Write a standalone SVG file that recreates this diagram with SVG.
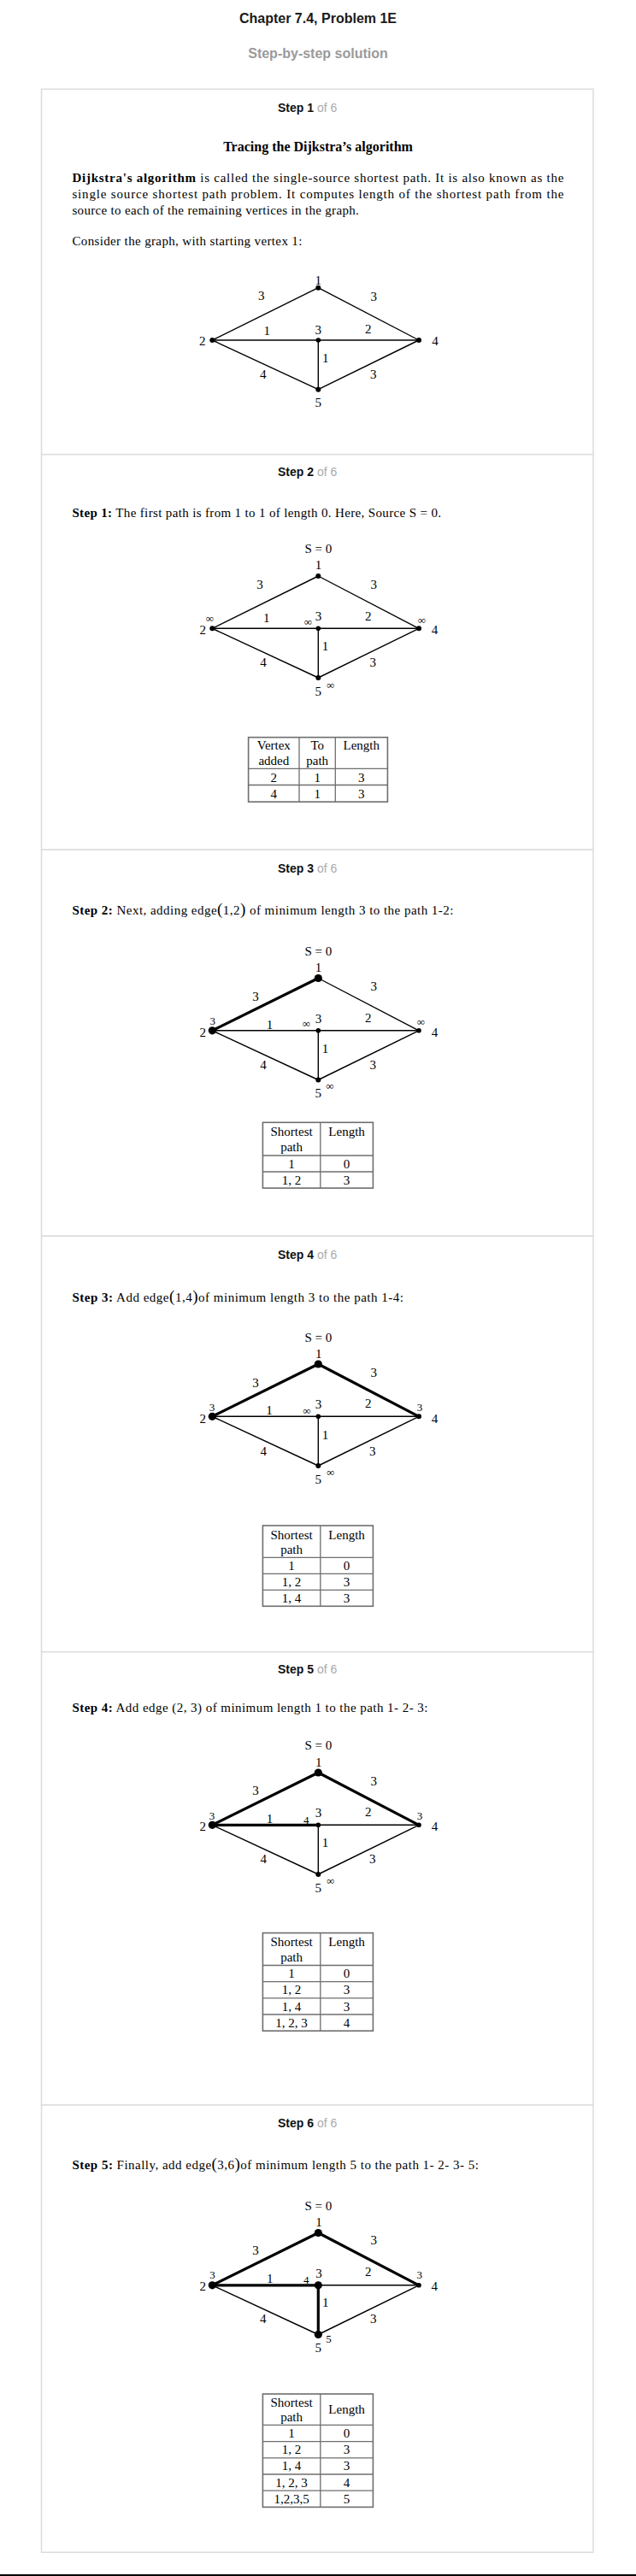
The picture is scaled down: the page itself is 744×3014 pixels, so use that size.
<svg xmlns="http://www.w3.org/2000/svg" width="744" height="3014" viewBox="0 0 744 3014">
<style>
.title{font-family:"Liberation Sans",Arial,sans-serif;font-weight:bold;font-size:16px;fill:#1a1a1a;text-anchor:middle}
.sub{font-family:"Liberation Sans",Arial,sans-serif;font-weight:bold;font-size:16px;fill:#9a9a9a;text-anchor:middle}
.sh{font-family:"Liberation Sans",Arial,sans-serif;font-size:14px;fill:#aaaaaa}
.shb{font-weight:bold;fill:#111}
.p{font-family:"Liberation Serif","DejaVu Serif",serif;font-size:15px;fill:#000}
.h{font-family:"Liberation Serif","DejaVu Serif",serif;font-size:16px;font-weight:bold;fill:#000;text-anchor:middle}
.b{font-weight:bold}
.g{font-family:"Liberation Serif","DejaVu Serif",serif;font-size:15px;fill:#000;text-anchor:middle}
.gs{font-family:"Liberation Serif","DejaVu Serif",serif;font-size:13px;fill:#000;text-anchor:middle}
.t{font-family:"Liberation Serif","DejaVu Serif",serif;font-size:15px;fill:#000;text-anchor:middle}
.box{fill:#fff;stroke:#dcdcdc;stroke-width:1.5}
.e{stroke:#000;stroke-width:1.4;fill:none}
.eb{stroke:#000;stroke-width:3.2;fill:none;stroke-linecap:round}
.d{fill:#000}
.tb{fill:none;stroke:#6e6e6e;stroke-width:1.6}
.tl{stroke:#6e6e6e;stroke-width:1.3}
</style>
<rect width="744" height="3014" fill="#fff"/>
<text class="title" x="372" y="27">Chapter 7.4, Problem 1E</text>
<text class="sub" x="372" y="68">Step-by-step solution</text>

<g id="boxes">
<rect class="box" x="48.5" y="104.3" width="645.5" height="427.4"/>
<rect class="box" x="48.5" y="531.7" width="645.5" height="462.6"/>
<rect class="box" x="48.5" y="994.3" width="645.5" height="452"/>
<rect class="box" x="48.5" y="1446.3" width="645.5" height="486.4"/>
<rect class="box" x="48.5" y="1932.7" width="645.5" height="530.3"/>
<rect class="box" x="48.5" y="2463" width="645.5" height="523.3"/>
</g>
<line x1="0" y1="3013" x2="744" y2="3013" stroke="#000" stroke-width="2"/>

<!-- Step headers -->
<text class="sh" x="325" y="130.7"><tspan class="shb">Step 1</tspan> of 6</text>
<text class="sh" x="325" y="557.3"><tspan class="shb">Step 2</tspan> of 6</text>
<text class="sh" x="325" y="1020.7"><tspan class="shb">Step 3</tspan> of 6</text>
<text class="sh" x="325" y="1472.7"><tspan class="shb">Step 4</tspan> of 6</text>
<text class="sh" x="325" y="1958.2"><tspan class="shb">Step 5</tspan> of 6</text>
<text class="sh" x="325" y="2489"><tspan class="shb">Step 6</tspan> of 6</text>

<!-- Step 1 text -->
<text class="h" x="372" y="176.7">Tracing the Dijkstra’s algorithm</text>
<text class="p" x="84.4" y="213.3" textLength="575" lengthAdjust="spacing"><tspan class="b">Dijkstra's algorithm</tspan> is called the single-source shortest path. It is also known as the</text>
<text class="p" x="84.4" y="232.3" textLength="575" lengthAdjust="spacing">single source shortest path problem. It computes length of the shortest path from the</text>
<text class="p" x="84.4" y="250.7" textLength="335.4" lengthAdjust="spacing">source to each of the remaining vertices in the graph.</text>
<text class="p" x="84.4" y="287.3" textLength="269" lengthAdjust="spacing">Consider the graph, with starting vertex 1:</text>

<text class="p" x="84.4" y="605" textLength="431.6" lengthAdjust="spacing"><tspan class="b">Step 1:</tspan> The first path is from 1 to 1 of length 0. Here, Source S = 0.</text>
<text class="p" x="84.4" y="1070" textLength="446" lengthAdjust="spacing"><tspan class="b">Step 2:</tspan> Next, adding edge<tspan font-size="19">(</tspan>1,2<tspan font-size="19">)</tspan> of minimum length 3 to the path 1-2:</text>
<text class="p" x="84.4" y="1523.3" textLength="387.6" lengthAdjust="spacing"><tspan class="b">Step 3:</tspan> Add edge<tspan font-size="19">(</tspan>1,4<tspan font-size="19">)</tspan>of minimum length 3 to the path 1-4:</text>
<text class="p" x="84.4" y="2003" textLength="416" lengthAdjust="spacing"><tspan class="b">Step 4:</tspan> Add edge (2, 3) of minimum length 1 to the path 1- 2- 3:</text>
<text class="p" x="84.4" y="2537.7" textLength="475.4" lengthAdjust="spacing"><tspan class="b">Step 5:</tspan> Finally, add edge<tspan font-size="19">(</tspan>3,6<tspan font-size="19">)</tspan>of minimum length 5 to the path 1- 2- 3- 5:</text>

<!-- Graph 1 -->
<g id="graph1" transform="translate(0,336.7)">
<g id="g1-edges">
<line class="e" x1="372.3" y1="0" x2="248.3" y2="61.3"/>
<line class="e" x1="372.3" y1="0" x2="490" y2="61.3"/>
<line class="e" x1="248.3" y1="61.3" x2="490" y2="61.3"/>
<line class="e" x1="372.3" y1="61.3" x2="372.3" y2="119"/>
<line class="e" x1="248.3" y1="61.3" x2="372.3" y2="119"/>
<line class="e" x1="490" y1="61.3" x2="372.3" y2="119"/>
<text class="g" x="305.7" y="14.5">3</text>
<text class="g" x="437.3" y="15.3">3</text>
<text class="g" x="312.3" y="55.5">1</text>
<text class="g" x="430.7" y="53.3">2</text>
<text class="g" x="380.7" y="87.3">1</text>
<text class="g" x="307.7" y="106.3">4</text>
<text class="g" x="436.7" y="106.3">3</text>
</g>
<g id="g1-n1"><circle class="d" cx="372.3" cy="0" r="3"/><text class="g" x="372.3" y="-3.5">1</text></g>
<g id="g1-n2"><circle class="d" cx="248.3" cy="61.3" r="3"/><text class="g" x="236.7" y="67.3">2</text></g>
<g id="g1-n3"><circle class="d" cx="372.3" cy="61.3" r="2.8"/><text class="g" x="372.3" y="54">3</text></g>
<g id="g1-n4"><circle class="d" cx="490" cy="61.3" r="3"/><text class="g" x="509" y="67.3">4</text></g>
<g id="g1-n5"><circle class="d" cx="372.3" cy="119" r="3"/><text class="g" x="372.3" y="139.3">5</text></g>
</g>

<!-- Graph 2 -->
<g id="graph2" transform="translate(0,674)">
<text class="g" x="372.3" y="-26.7">S = 0</text>
<g id="g2-edges">
<line class="e" x1="372.3" y1="0" x2="248.3" y2="61.3"/>
<line class="e" x1="372.3" y1="0" x2="490" y2="61.3"/>
<line class="e" x1="248.3" y1="61.3" x2="490" y2="61.3"/>
<line class="e" x1="372.3" y1="61.3" x2="372.3" y2="119"/>
<line class="e" x1="248.3" y1="61.3" x2="372.3" y2="119"/>
<line class="e" x1="490" y1="61.3" x2="372.3" y2="119"/>
<text class="g" x="304" y="14.5">3</text>
<text class="g" x="437.3" y="15.3">3</text>
<text class="g" x="311.7" y="54">1</text>
<text class="g" x="430.7" y="52">2</text>
<text class="g" x="380.5" y="87.3">1</text>
<text class="g" x="308" y="106.3">4</text>
<text class="g" x="436.3" y="106.3">3</text>
</g>
<g id="g2-n1"><circle class="d" cx="372.3" cy="0" r="3"/><text class="g" x="372.6" y="-8">1</text></g>
<g id="g2-n2"><circle class="d" cx="248.3" cy="61.3" r="3"/><text class="g" x="237.2" y="68">2</text><text class="gs" x="245.3" y="53.5">∞</text></g>
<g id="g2-n3"><circle class="d" cx="372.3" cy="61.3" r="2.8"/><text class="g" x="372.6" y="52">3</text><text class="gs" x="360.5" y="58">∞</text></g>
<g id="g2-n4"><circle class="d" cx="490" cy="61.3" r="3"/><text class="g" x="508.5" y="68">4</text><text class="gs" x="493.4" y="56">∞</text></g>
<g id="g2-n5"><circle class="d" cx="372.3" cy="119" r="3"/><text class="g" x="372.3" y="139.5">5</text><text class="gs" x="386.6" y="131.5">∞</text></g>
</g>

<!-- Graph 3 -->
<g id="graph3" transform="translate(0,1144.5)">
<text class="g" x="372.3" y="-26.5">S = 0</text>
<g id="g3-edges">
<line class="eb" x1="372.3" y1="0" x2="248.3" y2="61.3"/>
<line class="e" x1="372.3" y1="0" x2="490" y2="61.3"/>
<line class="e" x1="248.3" y1="61.3" x2="490" y2="61.3"/>
<line class="e" x1="372.3" y1="61.3" x2="372.3" y2="119"/>
<line class="e" x1="248.3" y1="61.3" x2="372.3" y2="119"/>
<line class="e" x1="490" y1="61.3" x2="372.3" y2="119"/>
<text class="g" x="299" y="26.5">3</text>
<text class="g" x="437.3" y="14.5">3</text>
<text class="g" x="315.5" y="59">1</text>
<text class="g" x="430.7" y="51">2</text>
<text class="g" x="380.5" y="87.3">1</text>
<text class="g" x="308" y="106">4</text>
<text class="g" x="436.3" y="106">3</text>
</g>
<g id="g3-n1"><circle class="d" cx="372.3" cy="0" r="4.6"/><text class="g" x="372.6" y="-7.3">1</text></g>
<g id="g3-n2"><circle class="d" cx="248.3" cy="61.3" r="4.6"/><text class="g" x="237.3" y="68">2</text><text class="gs" x="248.8" y="54.5">3</text></g>
<g id="g3-n3"><circle class="d" cx="372.3" cy="61.3" r="2.8"/><text class="g" x="372.6" y="52.5">3</text><text class="gs" x="358.3" y="57.5">∞</text></g>
<g id="g3-n4"><circle class="d" cx="490" cy="61.3" r="2.8"/><text class="g" x="508.5" y="68">4</text><text class="gs" x="492.3" y="55">∞</text></g>
<g id="g3-n5"><circle class="d" cx="372.3" cy="119" r="3"/><text class="g" x="372.3" y="139.5">5</text><text class="gs" x="386" y="130.5">∞</text></g>
</g>

<!-- Graph 4 -->
<g id="graph4" transform="translate(0,1596)">
<text class="g" x="372.3" y="-26.5">S = 0</text>
<g id="g4-edges">
<line class="eb" x1="372.3" y1="0" x2="248.3" y2="61.3"/>
<line class="eb" x1="372.3" y1="0" x2="490" y2="61.3"/>
<line class="e" x1="248.3" y1="61.3" x2="490" y2="61.3"/>
<line class="e" x1="372.3" y1="61.3" x2="372.3" y2="119"/>
<line class="e" x1="248.3" y1="61.3" x2="372.3" y2="119"/>
<line class="e" x1="490" y1="61.3" x2="372.3" y2="119"/>
<text class="g" x="299" y="26.5">3</text>
<text class="g" x="437.3" y="15">3</text>
<text class="g" x="315" y="58.5">1</text>
<text class="g" x="430.7" y="51">2</text>
<text class="g" x="380.5" y="88">1</text>
<text class="g" x="308.3" y="106.5">4</text>
<text class="g" x="435.8" y="106.5">3</text>
</g>
<g id="g4-n1"><circle class="d" cx="372.3" cy="0" r="4.6"/><text class="g" x="372.8" y="-7">1</text></g>
<g id="g4-n2"><circle class="d" cx="248.3" cy="61.3" r="4.6"/><text class="g" x="237.3" y="69">2</text><text class="gs" x="248" y="55">3</text></g>
<g id="g4-n3"><circle class="d" cx="372.3" cy="61.3" r="2.8"/><text class="g" x="372.6" y="51.5">3</text><text class="gs" x="359" y="58.5">∞</text></g>
<g id="g4-n4"><circle class="d" cx="490" cy="61.3" r="3"/><text class="g" x="508.5" y="69">4</text><text class="gs" x="491" y="55">3</text></g>
<g id="g4-n5"><circle class="d" cx="372.3" cy="119" r="3"/><text class="g" x="372.3" y="140">5</text><text class="gs" x="386.6" y="130.5">∞</text></g>
</g>

<!-- Graph 5 -->
<g id="graph5" transform="translate(0,2074)">
<text class="g" x="372.3" y="-27">S = 0</text>
<g id="g5-edges">
<line class="eb" x1="372.3" y1="0" x2="248.3" y2="61.3"/>
<line class="eb" x1="372.3" y1="0" x2="490" y2="61.3"/>
<line class="eb" x1="248.3" y1="61.3" x2="372.3" y2="61.3"/>
<line class="e" x1="372.3" y1="61.3" x2="490" y2="61.3"/>
<line class="e" x1="372.3" y1="61.3" x2="372.3" y2="119"/>
<line class="e" x1="248.3" y1="61.3" x2="372.3" y2="119"/>
<line class="e" x1="490" y1="61.3" x2="372.3" y2="119"/>
<text class="g" x="299" y="26">3</text>
<text class="g" x="437.3" y="14.5">3</text>
<text class="g" x="315.5" y="58.5">1</text>
<text class="g" x="430.7" y="50.5">2</text>
<text class="g" x="380.5" y="87.3">1</text>
<text class="g" x="308.3" y="106">4</text>
<text class="g" x="435.8" y="106">3</text>
</g>
<g id="g5-n1"><circle class="d" cx="372.3" cy="0" r="4.6"/><text class="g" x="372.8" y="-7.3">1</text></g>
<g id="g5-n2"><circle class="d" cx="248.3" cy="61.3" r="4.6"/><text class="g" x="237.3" y="68">2</text><text class="gs" x="248" y="54.5">3</text></g>
<g id="g5-n3"><circle class="d" cx="372.3" cy="61.3" r="2.8"/><text class="g" x="372.6" y="51.5">3</text><text class="gs" x="358.2" y="59.5" font-size="14">4</text></g>
<g id="g5-n4"><circle class="d" cx="490" cy="61.3" r="2.8"/><text class="g" x="508.5" y="68">4</text><text class="gs" x="491" y="54.5">3</text></g>
<g id="g5-n5"><circle class="d" cx="372.3" cy="119" r="3"/><text class="g" x="372.3" y="140">5</text><text class="gs" x="386.6" y="130.5">∞</text></g>
</g>

<!-- Graph 6 -->
<g id="graph6" transform="translate(0,2612.5)">
<text class="g" x="372.3" y="-26.5">S = 0</text>
<g id="g6-edges">
<line class="eb" x1="372.3" y1="0" x2="248.3" y2="61.3"/>
<line class="eb" x1="372.3" y1="0" x2="490" y2="61.3"/>
<line class="eb" x1="248.3" y1="61.3" x2="372.3" y2="61.3"/>
<line class="e" x1="372.3" y1="61.3" x2="490" y2="61.3" stroke-width="1.1"/>
<line class="eb" x1="372.3" y1="61.3" x2="372.3" y2="119"/>
<line class="e" x1="248.3" y1="61.3" x2="372.3" y2="119" stroke-width="1.1"/>
<line class="e" x1="490" y1="61.3" x2="372.3" y2="119" stroke-width="1.1"/>
<text class="g" x="299" y="25.7">3</text>
<text class="g" x="437.3" y="13.7">3</text>
<text class="g" x="315.7" y="58.7">1</text>
<text class="g" x="430.7" y="50.7">2</text>
<text class="g" x="380.7" y="86.7">1</text>
<text class="g" x="307.7" y="105.7">4</text>
<text class="g" x="436.7" y="105.7">3</text>
</g>
<g id="g6-n1"><circle class="d" cx="372.3" cy="0" r="4.6"/><text class="g" x="373" y="-7.3">1</text></g>
<g id="g6-n2"><circle class="d" cx="248.3" cy="61.3" r="4.6"/><text class="g" x="237.3" y="67.7">2</text><text class="gs" x="248.5" y="53.7">3</text></g>
<g id="g6-n3"><circle class="d" cx="372.3" cy="61.3" r="4.6"/><text class="g" x="373" y="52.7">3</text><text class="gs" x="358.3" y="59.7" font-size="14">4</text></g>
<g id="g6-n4"><circle class="d" cx="490" cy="61.3" r="2.8"/><text class="g" x="508.3" y="67.7">4</text><text class="gs" x="490.7" y="53.7">3</text></g>
<g id="g6-n5"><circle class="d" cx="372.3" cy="119" r="4.6"/><text class="g" x="372.3" y="139.4">5</text><text class="gs" x="384.5" y="128.7" font-size="14">5</text></g>
</g>

<!-- Table 1 (Step 2) -->
<g id="table1">
<rect class="tb" x="290.6" y="862.7" width="162.8" height="75.5"/>
<line class="tl" x1="350" y1="862.7" x2="350" y2="938.2"/>
<line class="tl" x1="392.3" y1="862.7" x2="392.3" y2="938.2"/>
<line class="tl" x1="290.6" y1="899.3" x2="453.4" y2="899.3"/>
<line class="tl" x1="290.6" y1="918.5" x2="453.4" y2="918.5"/>
<text class="t" x="320.3" y="876.7">Vertex</text><text class="t" x="320.3" y="895">added</text>
<text class="t" x="371.2" y="876.7">To</text><text class="t" x="371.2" y="895">path</text>
<text class="t" x="422.8" y="876.7">Length</text>
<text class="t" x="320.3" y="914.5">2</text><text class="t" x="371.2" y="914.5">1</text><text class="t" x="422.8" y="914.5">3</text>
<text class="t" x="320.3" y="933.5">4</text><text class="t" x="371.2" y="933.5">1</text><text class="t" x="422.8" y="933.5">3</text>
</g>

<!-- Table 2 (Step 3) -->
<g id="table2">
<rect class="tb" x="307.4" y="1313.3" width="129" height="76.8"/>
<line class="tl" x1="374.8" y1="1313.3" x2="374.8" y2="1390.1"/>
<line class="tl" x1="307.4" y1="1352" x2="436.4" y2="1352"/>
<line class="tl" x1="307.4" y1="1371" x2="436.4" y2="1371"/>
<text class="t" x="341.1" y="1329">Shortest</text><text class="t" x="341.1" y="1346.5">path</text>
<text class="t" x="405.6" y="1329">Length</text>
<text class="t" x="341.1" y="1366.7">1</text><text class="t" x="405.6" y="1366.7">0</text>
<text class="t" x="341.1" y="1385.7">1, 2</text><text class="t" x="405.6" y="1385.7">3</text>
</g>

<!-- Table 3 (Step 4) -->
<g id="table3">
<rect class="tb" x="307.4" y="1785" width="129" height="94.3"/>
<line class="tl" x1="374.8" y1="1785" x2="374.8" y2="1879.3"/>
<line class="tl" x1="307.4" y1="1822.3" x2="436.4" y2="1822.3"/>
<line class="tl" x1="307.4" y1="1841.3" x2="436.4" y2="1841.3"/>
<line class="tl" x1="307.4" y1="1860.3" x2="436.4" y2="1860.3"/>
<text class="t" x="341.1" y="1800.5">Shortest</text><text class="t" x="341.1" y="1818">path</text>
<text class="t" x="405.6" y="1800.5">Length</text>
<text class="t" x="341.1" y="1837">1</text><text class="t" x="405.6" y="1837">0</text>
<text class="t" x="341.1" y="1856">1, 2</text><text class="t" x="405.6" y="1856">3</text>
<text class="t" x="341.1" y="1875">1, 4</text><text class="t" x="405.6" y="1875">3</text>
</g>

<!-- Table 4 (Step 5) -->
<g id="table4">
<rect class="tb" x="307.4" y="2261.6" width="129" height="114.6"/>
<line class="tl" x1="374.8" y1="2261.6" x2="374.8" y2="2376.2"/>
<line class="tl" x1="307.4" y1="2299.5" x2="436.4" y2="2299.5"/>
<line class="tl" x1="307.4" y1="2318.6" x2="436.4" y2="2318.6"/>
<line class="tl" x1="307.4" y1="2337.8" x2="436.4" y2="2337.8"/>
<line class="tl" x1="307.4" y1="2357" x2="436.4" y2="2357"/>
<text class="t" x="341.1" y="2277.3">Shortest</text><text class="t" x="341.1" y="2295">path</text>
<text class="t" x="405.6" y="2277.3">Length</text>
<text class="t" x="341.1" y="2314.2">1</text><text class="t" x="405.6" y="2314.2">0</text>
<text class="t" x="341.1" y="2333.3">1, 2</text><text class="t" x="405.6" y="2333.3">3</text>
<text class="t" x="341.1" y="2352.5">1, 4</text><text class="t" x="405.6" y="2352.5">3</text>
<text class="t" x="341.1" y="2371.7">1, 2, 3</text><text class="t" x="405.6" y="2371.7">4</text>
</g>

<!-- Table 5 (Step 6) -->
<g id="table5">
<rect class="tb" x="307.4" y="2801" width="129" height="132.4"/>
<line class="tl" x1="374.8" y1="2801" x2="374.8" y2="2933.4"/>
<line class="tl" x1="307.4" y1="2837.4" x2="436.4" y2="2837.4"/>
<line class="tl" x1="307.4" y1="2856.6" x2="436.4" y2="2856.6"/>
<line class="tl" x1="307.4" y1="2875.8" x2="436.4" y2="2875.8"/>
<line class="tl" x1="307.4" y1="2895" x2="436.4" y2="2895"/>
<line class="tl" x1="307.4" y1="2914.2" x2="436.4" y2="2914.2"/>
<text class="t" x="341.1" y="2815.8">Shortest</text><text class="t" x="341.1" y="2832.5">path</text>
<text class="t" x="405.6" y="2823.5">Length</text>
<text class="t" x="341.1" y="2852">1</text><text class="t" x="405.6" y="2852">0</text>
<text class="t" x="341.1" y="2871.2">1, 2</text><text class="t" x="405.6" y="2871.2">3</text>
<text class="t" x="341.1" y="2890.4">1, 4</text><text class="t" x="405.6" y="2890.4">3</text>
<text class="t" x="341.1" y="2909.6">1, 2, 3</text><text class="t" x="405.6" y="2909.6">4</text>
<text class="t" x="341.1" y="2928.8">1,2,3,5</text><text class="t" x="405.6" y="2928.8">5</text>
</g>
</svg>
